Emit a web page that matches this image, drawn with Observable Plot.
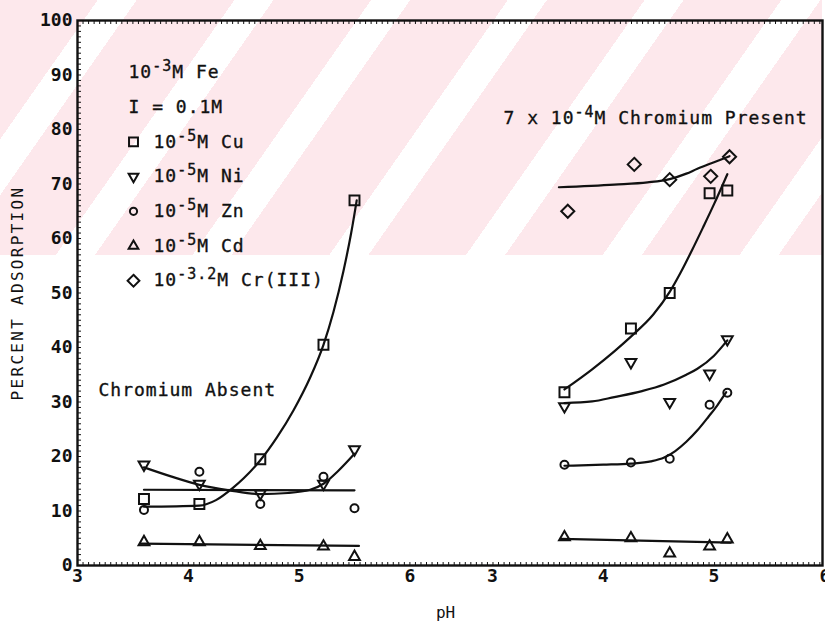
<!DOCTYPE html>
<html>
<head>
<meta charset="utf-8">
<script src="https://cdn.jsdelivr.net/npm/d3@7"></script>
<script src="https://cdn.jsdelivr.net/npm/@observablehq/plot@0.6"></script>
<style>
html, body { margin: 0; padding: 0; background: #fff; overflow: hidden; }
#wrap { position: relative; width: 825px; height: 624px; }
#wm { position: absolute; left: 0; top: 0; width: 822px; height: 255px;
  background: repeating-linear-gradient(125deg, #fde8ec 0 80px, #ffffff 80px 112px); }
#chart { position: absolute; left: 0; top: 0; }
</style>
</head>
<body>
<div id="wrap"><div id="wm"></div><div id="chart"></div></div>
<script>
// ---------- data ----------
const pHTickValues = [3, 4, 5, 6];
const yTickValues = [0, 10, 20, 30, 40, 50, 60, 70, 80, 90, 100];

// Chromium absent (left panel)
const absentPH = [3.6, 4.1, 4.65, 5.22, 5.5];
const absentCu = [12.2, 11.3, 19.5, 40.5, 67];
const absentNi = [18.5, 15.0, 13.2, 15.0, 21.3];
const absentZn = [10.2, 17.2, 11.3, 16.3, 10.5];
const absentCd = [4.3, 4.3, 3.6, 3.5, 1.6];

// 7 x 10^-4 M chromium present (right panel)
const presentPH = [3.65, 4.25, 4.6, 4.96, 5.12];
const presentCu = [31.8, 43.5, 50, 68.3, 68.8];
const presentNi = [29.2, 37.3, 30.0, 35.2, 41.5];
const presentZn = [18.5, 18.9, 19.6, 29.5, 31.7];
const presentCd = [5.2, 5.0, 2.2, 3.5, 4.8];
const presentCrPH = [3.68, 4.28, 4.6, 4.97, 5.14];
const presentCr = [65, 73.6, 70.8, 71.4, 75];

// fitted curves drawn on the figure [pH, %]
const fitAbsentCu = [[3.6,10.8],[4.1,11],[4.25,12],[4.4,14.2],[4.5,16],[4.65,19.3],[4.8,23.5],[4.95,28.5],[5.1,34.5],[5.22,40.5],[5.31,46.5],[5.4,54],[5.47,61],[5.52,67]];
const fitAbsentNi = [[3.6,18],[3.85,16.3],[4.1,14.8],[4.37,13.8],[4.65,13.1],[4.9,13.3],[5.1,13.9],[5.22,15],[5.35,17.3],[5.5,20.5]];
const fitAbsentZn = [[3.6,13.9],[5.5,13.8]];
const fitAbsentCd = [[3.57,4.0],[5.54,3.6]];
const fitPresentCu = [[3.65,32.3],[3.9,36.0],[4.1,39.3],[4.25,42],[4.45,46],[4.6,50.2],[4.7,53.8],[4.8,57.8],[4.9,62],[5.0,66.3],[5.12,71.8]];
const fitPresentNi = [[3.65,29.8],[3.9,30.1],[4.1,30.9],[4.35,32],[4.55,33.2],[4.75,35],[4.85,36.1],[5.0,38.5],[5.12,41.3]];
const fitPresentZn = [[3.65,18.3],[4.0,18.5],[4.25,18.7],[4.43,19.1],[4.55,19.8],[4.65,21.0],[4.75,22.7],[4.85,24.8],[4.95,27.3],[5.03,29.4],[5.11,31.8]];
const fitPresentCd = [[3.62,4.9],[5.15,4.2]];
const fitPresentCr = [[3.6,69.4],[4.1,69.9],[4.4,70.3],[4.6,70.9],[4.75,71.9],[4.85,72.8],[5.0,74],[5.14,75.1]];

const legendHeader = ["10^{-3}M Fe", "I = 0.1M"];
const legendSeries = ["10^{-5}M Cu", "10^{-5}M Ni", "10^{-5}M Zn", "10^{-5}M Cd", "10^{-3.2}M Cr(III)"];
const panelNotes = ["Chromium Absent", "7 x 10^{-4}M Chromium Present"];
const xTitle = "pH";
const yTitle = "PERCENT ADSORPTION";

// ---------- layout / style ----------
const OFFSET = 3.745;               // second panel shifted along the shared axis
const FONT = "DejaVu Sans Mono";
const INK = "#111";
const sym = {
  Cu: {symbol: "square", r: 5.6, rotate: 0},
  Ni: {symbol: "triangle", r: 4.0, rotate: 180},
  Zn: {symbol: "circle", r: 4, rotate: 0},
  Cd: {symbol: "triangle", r: 4.0, rotate: 0},
  Cr: {symbol: "diamond2", r: 5.9, rotate: 0}
};

const pts = (ph, vals, off) => ph.map((p, i) => ({u: p + off, v: vals[i]}));
const fit = (arr, off) => arr.map(([p, v]) => ({u: p + off, v}));

const series = [
  {k: "Cu", d: pts(absentPH, absentCu, 0)},
  {k: "Ni", d: pts(absentPH, absentNi, 0)},
  {k: "Zn", d: pts(absentPH, absentZn, 0)},
  {k: "Cd", d: pts(absentPH, absentCd, 0)},
  {k: "Cu", d: pts(presentPH, presentCu, OFFSET)},
  {k: "Ni", d: pts(presentPH, presentNi, OFFSET)},
  {k: "Zn", d: pts(presentPH, presentZn, OFFSET)},
  {k: "Cd", d: pts(presentPH, presentCd, OFFSET)},
  {k: "Cr", d: pts(presentCrPH, presentCr, OFFSET)}
];
const fits = [
  fit(fitAbsentCu, 0), fit(fitAbsentNi, 0), fit(fitAbsentZn, 0), fit(fitAbsentCd, 0),
  fit(fitPresentCu, OFFSET), fit(fitPresentNi, OFFSET), fit(fitPresentZn, OFFSET),
  fit(fitPresentCd, OFFSET), fit(fitPresentCr, OFFSET)
];

const xTicks = [...pHTickValues.map(v => ({u: v, t: String(v)})),
                ...pHTickValues.map(v => ({u: v + OFFSET, t: String(v)}))];
const minorX = d3.range(3, 9.72, 0.05);
const minorY = d3.range(0, 101, 1);

const rowDy = i => 52 + 34.7 * i;
const legendKeys = ["Cu", "Ni", "Zn", "Cd", "Cr"];
const txt = {fill: INK, stroke: INK, strokeWidth: 0.35, fontSize: 18, lineAnchor: "middle"};

const marks = [
  Plot.axisY({ticks: minorY, tickSize: 4, tickFormat: () => "", label: null, dx: 4, stroke: INK}),
  Plot.axisX({anchor: "bottom", ticks: minorX, tickSize: 3, tickFormat: () => "", label: null, dy: -3, stroke: INK}),
  Plot.axisX({anchor: "top", ticks: minorX, tickSize: 3, tickFormat: () => "", label: null, dy: 3, stroke: INK}),
  Plot.frame({stroke: INK, strokeWidth: 2.4}),
  ...fits.map(f => Plot.line(f, {x: "u", y: "v", curve: "monotone-x", stroke: INK, strokeWidth: 2.2})),
  ...series.map(s => Plot.dot(s.d, {x: "u", y: "v", symbol: sym[s.k].symbol, r: sym[s.k].r,
      rotate: sym[s.k].rotate, stroke: INK, strokeWidth: 2, fill: "none"})),
  // tick labels
  Plot.text(xTicks, {x: "u", y: () => 0, text: "t", dy: 11, fontWeight: "bold", fontSize: 18, fill: INK, lineAnchor: "middle"}),
  Plot.text(yTickValues, {x: () => 3, y: d => d, text: d => String(d), dx: -5, textAnchor: "end", fontWeight: "bold", fontSize: 18, fill: INK, lineAnchor: "middle"}),
  // legend
  ...legendHeader.map((t, i) => Plot.text([t], {...txt, frameAnchor: "top-left", dx: 51, dy: rowDy(i), textAnchor: "start"})),
  ...legendSeries.map((t, i) => Plot.text([t], {...txt, frameAnchor: "top-left", dx: 76, dy: rowDy(i + 2), textAnchor: "start"})),
  ...legendKeys.map((k, i) => Plot.dot([0], {frameAnchor: "top-left", dx: 56, dy: rowDy(i + 2), symbol: sym[k].symbol,
      r: sym[k].r * 0.9, rotate: sym[k].rotate, stroke: INK, strokeWidth: 2, fill: "none"})),
  // panel annotations
  Plot.text([panelNotes[0]], {...txt, frameAnchor: "bottom-left", dx: 21, dy: -175, textAnchor: "start"}),
  Plot.text([panelNotes[1]], {...txt, frameAnchor: "top-left", dx: 426, dy: 98, textAnchor: "start"}),
  // axis titles
  Plot.text([xTitle], {frameAnchor: "bottom-left", dx: 368, dy: 47, fontSize: 16, fill: INK, textAnchor: "middle", lineAnchor: "middle"}),
  Plot.text([yTitle], {frameAnchor: "left", dx: -60, dy: 0, rotate: -90, fontSize: 16, fill: INK, textAnchor: "middle", lineAnchor: "middle"})
];

const plot = Plot.plot({
  width: 825, height: 624,
  marginLeft: 77, marginRight: 3, marginTop: 20, marginBottom: 59,
  style: {fontFamily: FONT, fontSize: "17px", background: "transparent", color: INK, overflow: "visible"},
  x: {domain: [3, 9.724], axis: null},
  y: {domain: [0, 100], axis: null},
  marks
});

// letter spacing and superscripts ("a^{b}c" -> tspans)
d3.select(plot).selectAll("text").each(function () {
  const s = this.textContent;
  const sel = d3.select(this);
  if (/^\d+$/.test(s) || s === xTitle) sel.style("letter-spacing", "0px");
  else if (s === yTitle) sel.style("letter-spacing", "2.3px");
  else sel.style("letter-spacing", "1px");
  if (!s.includes("^{")) return;
  const parts = s.split(/(\^\{[^}]*\})/).filter(p => p);
  sel.text(null);
  let raised = false;
  for (const p of parts) {
    if (p.startsWith("^{")) {
      sel.append("tspan").attr("dy", -7).attr("font-size", 15).text(p.slice(2, -1));
      raised = true;
    } else {
      const t = sel.append("tspan").text(p);
      if (raised) { t.attr("dy", 7); raised = false; }
    }
  }
});

document.getElementById("chart").appendChild(plot);
</script>
</body>
</html>
